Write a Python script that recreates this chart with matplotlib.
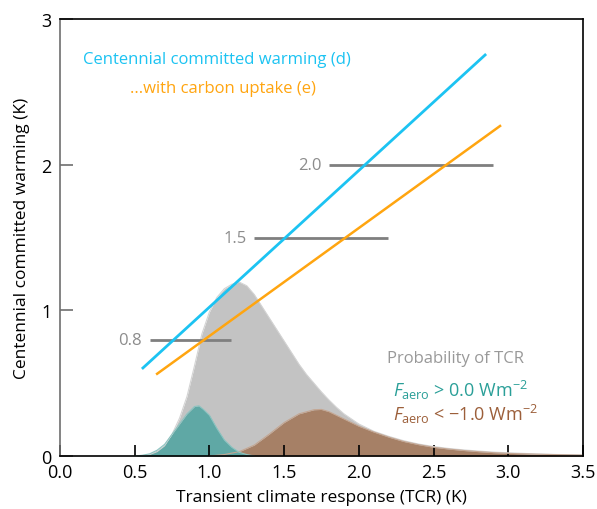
# Committed warming vs transient climate response, with TCR probability shading
import matplotlib
matplotlib.use('Agg')
import matplotlib.pyplot as plt

plt.rcParams['font.family'] = ['Open Sans', 'DejaVu Sans']
plt.rcParams['mathtext.fontset'] = 'custom'
plt.rcParams['mathtext.rm'] = 'Open Sans'
plt.rcParams['mathtext.it'] = 'Open Sans:italic'

# ── Data ─────────────────────────────────────────────────────

# warming lines: end points
warm_d_x = [0.555, 2.845]
warm_d_y = [0.605, 2.756]
warm_e_x = [0.65, 2.945]
warm_e_y = [0.565, 2.268]

# horizontal reference levels
levels = [0.8, 1.5, 2.0]
level_x0 = [0.60, 1.30, 1.80]
level_x1 = [1.145, 2.195, 2.90]
level_labels = ['0.8', '1.5', '2.0']

# probability of TCR (all)
pdf_all_x = [0.55, 0.60, 0.65, 0.70, 0.75, 0.80, 0.85, 0.90, 0.95, 1.00,
             1.05, 1.10, 1.15, 1.20, 1.25, 1.30, 1.35, 1.40, 1.45, 1.50,
             1.55, 1.60, 1.65, 1.70, 1.75, 1.80, 1.85, 1.90, 2.00, 2.10,
             2.20, 2.30, 2.40, 2.50, 2.60, 2.70, 2.80, 2.90, 3.00, 3.10,
             3.20, 3.30, 3.40, 3.50]
pdf_all_y = [0.0, 0.01, 0.03, 0.07, 0.15, 0.26, 0.41, 0.62, 0.84, 0.99,
             1.09, 1.15, 1.18, 1.195, 1.17, 1.11, 1.03, 0.95, 0.87, 0.79,
             0.71, 0.63, 0.56, 0.50, 0.44, 0.385, 0.335, 0.29, 0.22, 0.17,
             0.135, 0.105, 0.082, 0.065, 0.052, 0.042, 0.034, 0.027, 0.022, 0.018,
             0.014, 0.011, 0.009, 0.007]

# F_aero > 0.0
pdf_pos_x = [0.50, 0.55, 0.60, 0.65, 0.70, 0.75, 0.80, 0.85, 0.90, 0.93,
             0.96, 1.00, 1.05, 1.10, 1.15, 1.20, 1.25, 1.30]
pdf_pos_y = [0.0, 0.005, 0.015, 0.04, 0.08, 0.15, 0.22, 0.29, 0.34, 0.345,
             0.32, 0.28, 0.19, 0.11, 0.06, 0.025, 0.01, 0.0]

# F_aero < -1.0
pdf_neg_x = [1.00, 1.10, 1.20, 1.30, 1.40, 1.50, 1.60, 1.70, 1.75, 1.80,
             1.90, 2.00, 2.10, 2.20, 2.30, 2.40, 2.50, 2.60, 2.70, 2.80,
             2.90, 3.00, 3.20, 3.40, 3.50]
pdf_neg_y = [0.0, 0.01, 0.03, 0.075, 0.15, 0.23, 0.29, 0.318, 0.32, 0.305,
             0.255, 0.205, 0.165, 0.13, 0.10, 0.078, 0.06, 0.048, 0.038, 0.03,
             0.023, 0.018, 0.012, 0.008, 0.006]

# ── Colours ──────────────────────────────────────────────────
c_blue = '#1cc3f2'
c_orange = '#ffa510'
c_gray_fill = '#c3c3c3'
c_teal = '#5fa8a5'
c_brown = '#a68066'
c_level = '#7f7f7f'

# ── Plot ─────────────────────────────────────────────────────
fig = plt.figure(figsize=(5.97, 5.10), dpi=100)
ax = fig.add_axes([0.1005, 0.1039, 0.876, 0.856])

ax.fill_between(pdf_all_x, pdf_all_y, 0, color=c_gray_fill, lw=0)
ax.plot(pdf_all_x, pdf_all_y, color='#d4d4d4', lw=0.8)
ax.fill_between(pdf_neg_x, pdf_neg_y, 0, color=c_brown, lw=0)
ax.plot(pdf_neg_x, pdf_neg_y, color='#c4a692', lw=0.8)
ax.fill_between(pdf_pos_x, pdf_pos_y, 0, color=c_teal, lw=0)
ax.plot(pdf_pos_x, pdf_pos_y, color='#8cc4c1', lw=0.8)

# reference levels
for lev, x0, x1, lab in zip(levels, level_x0, level_x1, level_labels):
    ax.plot([x0, x1], [lev, lev], color=c_level, lw=2, solid_capstyle='butt')
    ax.text(x0 - 0.05, lev, lab, color='#8c8c8c', fontsize=12,
            ha='right', va='center')

# warming lines
ax.plot(warm_d_x, warm_d_y, color=c_blue, lw=2)
ax.plot(warm_e_x, warm_e_y, color=c_orange, lw=1.8)

ax.text(0.154, 2.70, 'Centennial committed warming (d)', color=c_blue,
        fontsize=12, ha='left', va='baseline')
ax.text(0.469, 2.50, '...with carbon uptake (e)', color=c_orange,
        fontsize=12, ha='left', va='baseline')

# probability legend
ax.text(2.645, 0.645, 'Probability of TCR', color='#999999',
        fontsize=12, ha='center', va='baseline')
ax.text(2.23, 0.41, r'$F_{\rm aero}$ > 0.0 Wm$^{-2}$', color='#2a9f98',
        fontsize=13, ha='left', va='baseline')
ax.text(2.23, 0.25, '$F_{\\rm aero}$ < \u22121.0 Wm$^{-2}$', color='#9c5f3a',
        fontsize=13, ha='left', va='baseline')

# axes
ax.set_xlim(0, 3.5)
ax.set_ylim(0, 3)
ax.set_xticks([0, 0.5, 1.0, 1.5, 2.0, 2.5, 3.0, 3.5])
ax.set_xticklabels(['0.0', '0.5', '1.0', '1.5', '2.0', '2.5', '3.0', '3.5'])
ax.set_yticks([0, 1, 2, 3])
ax.tick_params(axis='x', direction='in', length=8, width=1.2, color='black',
               labelsize=13, pad=5)
ax.tick_params(axis='y', direction='in', length=9, width=1.2, color='#6e6e6e',
               labelsize=13, pad=6)
ax.spines['left'].set_color('#6e6e6e')
for s in ['left', 'right', 'top', 'bottom']:
    ax.spines[s].set_linewidth(1.2)

ax.set_xlabel('Transient climate response (TCR) (K)', fontsize=12.5, labelpad=6)
ax.set_ylabel('Centennial committed warming (K)', fontsize=12.5, labelpad=8)

fig.savefig('out.png', dpi=100)
